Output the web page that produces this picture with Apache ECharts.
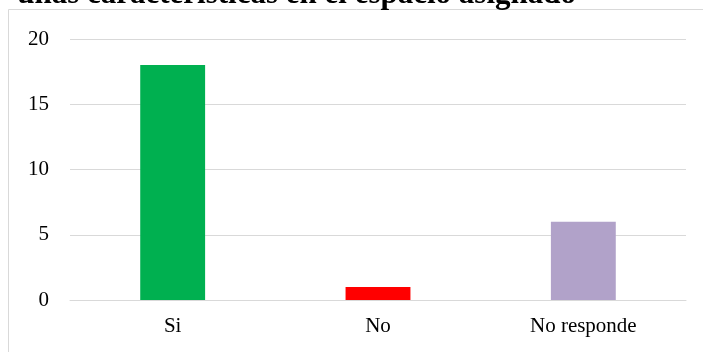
<!DOCTYPE html>
<html>
<head>
<meta charset="utf-8">
<script src="https://cdn.jsdelivr.net/npm/echarts@6/dist/echarts.min.js"></script>
<style>
  html, body { margin: 0; padding: 0; background: #fff; }
  #chart { width: 703px; height: 352px; }
</style>
</head>
<body>
<div id="chart"></div>
<script>
// Responses per answer option
const categories = ['Si', 'No', 'No responde'];
const counts = [18, 1, 6];
const barColors = ['#00b050', '#ff0000', '#b1a2c9'];
const titleText = 'unas características en el espacio asignado';

const chart = echarts.init(document.getElementById('chart'));
const serif = '"Liberation Serif", "Times New Roman", serif';

chart.setOption({
  animation: false,
  backgroundColor: '#fff',
  grid: { left: 70, right: 17, top: 39, bottom: 52 },
  graphic: [
    {
      type: 'rect',
      shape: { x: 8.5, y: 9.5, width: 800, height: 500 },
      style: { fill: 'none', stroke: '#d9d9d9', lineWidth: 1 },
      silent: true
    },
    {
      type: 'text',
      right: 127,
      top: -21,
      style: {
        text: titleText,
        font: 'bold 31px ' + serif,
        fill: '#000'
      }
    }
  ],
  xAxis: {
    type: 'category',
    data: categories,
    axisLine: { lineStyle: { color: '#d9d9d9', width: 1 } },
    axisTick: { show: false },
    axisLabel: { color: '#000', fontFamily: serif, fontSize: 21, margin: 16 }
  },
  yAxis: {
    type: 'value',
    min: 0,
    max: 20,
    interval: 5,
    axisLine: { show: false },
    axisTick: { show: false },
    splitLine: { lineStyle: { color: '#d9d9d9', width: 1 } },
    axisLabel: { color: '#000', fontFamily: serif, fontSize: 21, margin: 21 }
  },
  series: [{
    type: 'bar',
    barWidth: '31.6%',
    data: counts.map((v, i) => ({ value: v, itemStyle: { color: barColors[i] } }))
  }]
});
</script>
</body>
</html>
